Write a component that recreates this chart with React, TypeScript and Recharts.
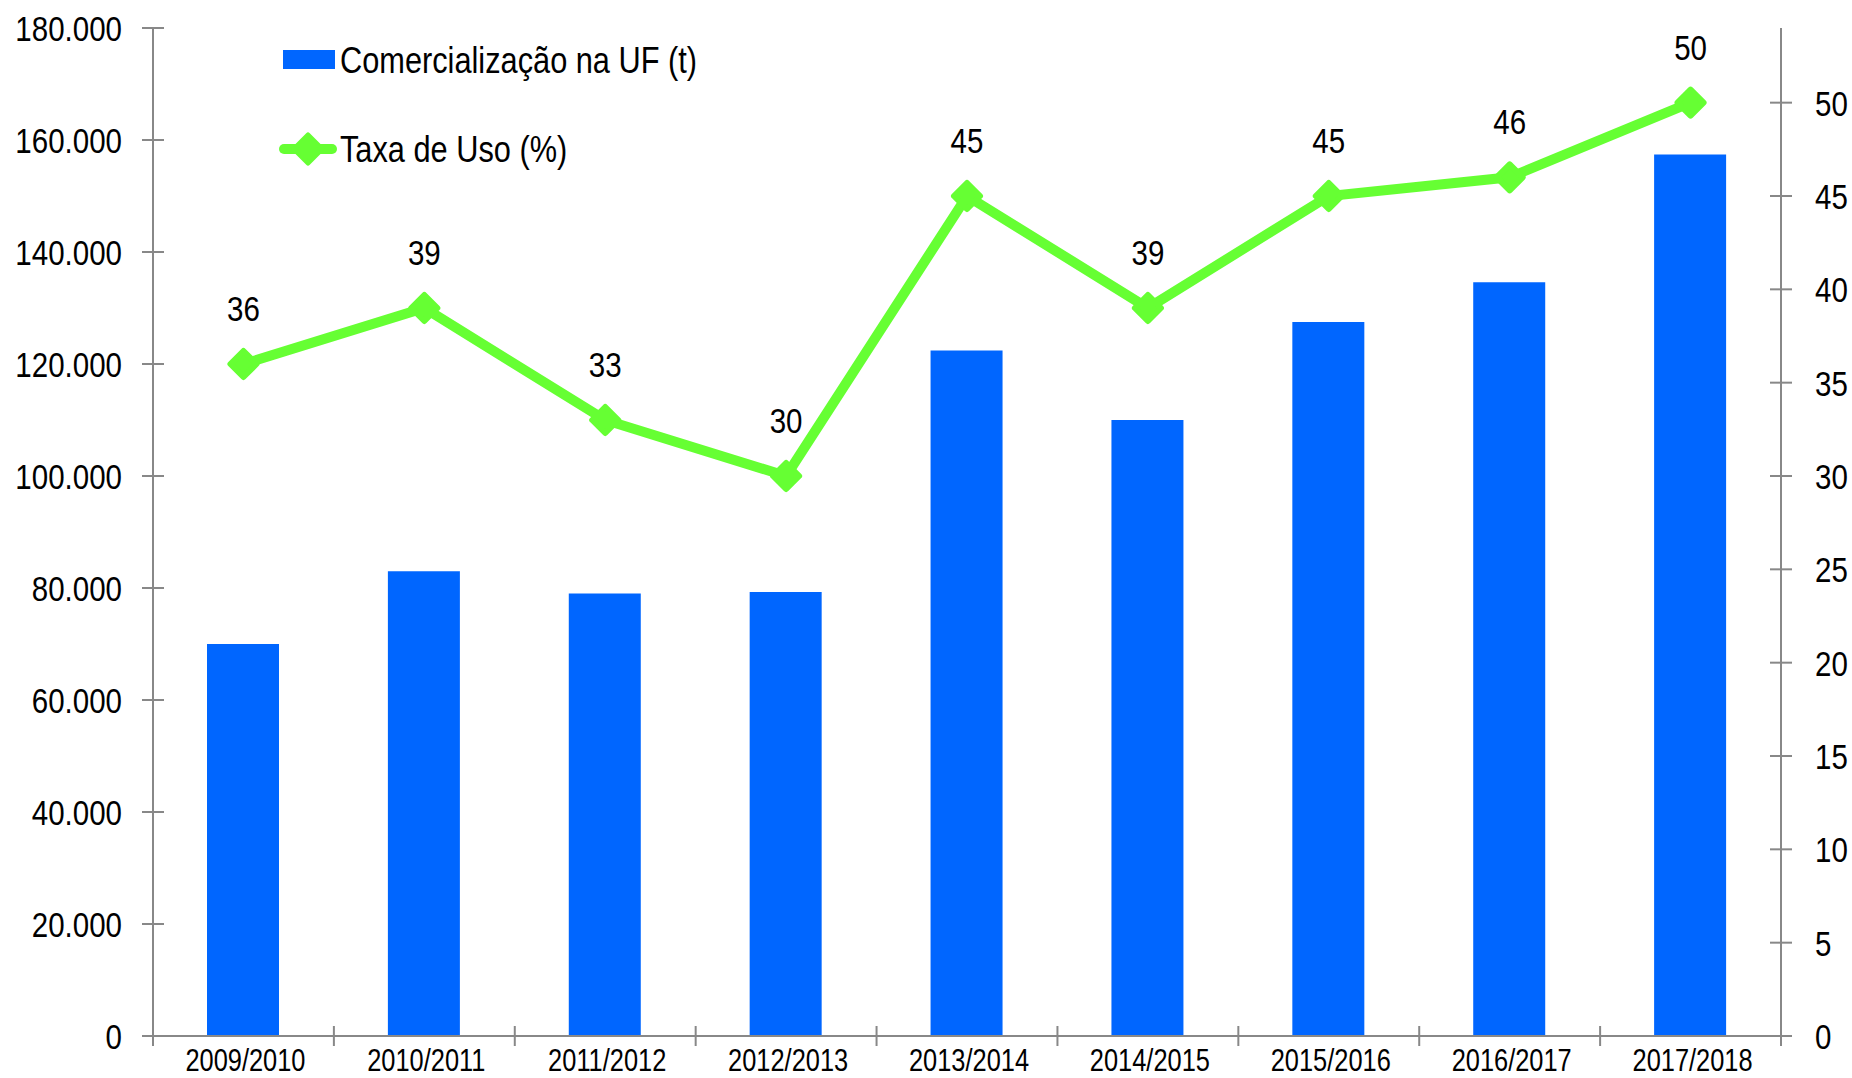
import React from 'react';
import { ComposedChart, Bar, Line, XAxis, YAxis, LabelList } from 'recharts';

const categories = ['2009/2010', '2010/2011', '2011/2012', '2012/2013', '2013/2014', '2014/2015', '2015/2016', '2016/2017', '2017/2018'];
const comercializacao = [70000, 83000, 79000, 79300, 122400, 110000, 127500, 134600, 157400];
const taxaUso = [36, 39, 33, 30, 45, 39, 45, 46, 50];
const leftTicks = [0, 20000, 40000, 60000, 80000, 100000, 120000, 140000, 160000, 180000];
const rightTicks = [0, 5, 10, 15, 20, 25, 30, 35, 40, 45, 50];
const seriesNames = ['Comercialização na UF (t)', 'Taxa de Uso (%)'];

const data = categories.map((c, i) => ({ cat: c, com: comercializacao[i], taxa: taxaUso[i] }));

const FONT = "'Liberation Sans', Arial, sans-serif";
const SX = 0.82;
const BLUE = '#0066FF';
const GREEN = '#66FF33';
const AXIS = '#888888';

const fmt = (v: number) => v.toLocaleString('de-DE');

const NText = ({ x, y, anchor = 'start', size = 36, children }: any) => (
  <text
    transform={`translate(${x},${y}) scale(${SX},1)`}
    x={0}
    y={0}
    textAnchor={anchor}
    fontFamily={FONT}
    fontSize={size}
    fill="#000"
  >
    {children}
  </text>
);

const LeftTick = (props: any) => {
  const { x, y, payload } = props;
  return (
    <g>
      <line x1={x + 20} x2={x + 42} y1={y} y2={y} stroke={AXIS} strokeWidth={2} />
      <NText x={x} y={y + 13} anchor="end">{fmt(payload.value)}</NText>
    </g>
  );
};

const RightTick = (props: any) => {
  const { x, y, payload } = props;
  return (
    <g>
      <line x1={x - 23} x2={x - 45} y1={y} y2={y} stroke={AXIS} strokeWidth={2} />
      <NText x={x} y={y + 13} anchor="start">{payload.value}</NText>
    </g>
  );
};

const XTick = (props: any) => {
  const { x, y, payload, index } = props;
  const off = payload.offset || 0;
  const axisY = y - 12;
  const last = index === categories.length - 1;
  return (
    <g>
      <line x1={x - off} x2={x - off} y1={axisY - 10} y2={axisY + 10} stroke={AXIS} strokeWidth={2} />
      {last && <line x1={x + off} x2={x + off} y1={axisY - 10} y2={axisY + 10} stroke={AXIS} strokeWidth={2} />}
      <NText x={x + 2} y={axisY + 35} anchor="middle" size={31}>{payload.value}</NText>
    </g>
  );
};

const Diamond = (props: any) => {
  const { cx, cy } = props;
  if (cx == null || cy == null) return null;
  const r = 13;
  return (
    <polygon
      points={`${cx},${cy - r} ${cx + r},${cy} ${cx},${cy + r} ${cx - r},${cy}`}
      fill={GREEN}
      stroke={GREEN}
      strokeWidth={6}
      strokeLinejoin="round"
    />
  );
};

const DataLabel = (props: any) => {
  const { x, y, value } = props;
  return <NText x={x} y={y - 43} anchor="middle">{value}</NText>;
};

const LegendBox = () => (
  <svg width={520} height={170} style={{ position: 'absolute', left: 270, top: 28 }}>
    <rect x={13} y={22} width={52} height={19} fill={BLUE} />
    <NText x={70} y={45} size={37.5}>{seriesNames[0]}</NText>
    <line x1={14} x2={62} y1={121} y2={121} stroke={GREEN} strokeWidth={10} strokeLinecap="round" />
    <polygon points="38,107 52,121 38,135 24,121" fill={GREEN} stroke={GREEN} strokeWidth={5} strokeLinejoin="round" />
    <NText x={70} y={134} size={37.5}>{seriesNames[1]}</NText>
  </svg>
);

export default function App() {
  return (
    <div style={{ position: 'absolute', left: 0, top: 0, width: 1852, height: 1078, background: '#fff' }}>
      <ComposedChart width={1852} height={1078} data={data} margin={{ top: 28, right: 0, bottom: 0, left: 0 }}>
        <XAxis
          dataKey="cat"
          height={42}
          axisLine={{ stroke: AXIS, strokeWidth: 2 }}
          tickLine={false}
          tickSize={10}
          tickMargin={2}
          tick={<XTick />}
          interval={0}
        />
        <YAxis
          yAxisId="left"
          width={153}
          domain={[0, 180000]}
          ticks={leftTicks}
          axisLine={{ stroke: AXIS, strokeWidth: 2 }}
          tickLine={false}
          tickSize={11}
          tickMargin={20}
          tick={<LeftTick />}
          interval={0}
        />
        <YAxis
          yAxisId="right"
          orientation="right"
          width={71}
          domain={[0, 54]}
          ticks={rightTicks}
          axisLine={{ stroke: AXIS, strokeWidth: 2 }}
          tickLine={false}
          tickSize={11}
          tickMargin={23}
          tick={<RightTick />}
          interval={0}
        />
        <Bar yAxisId="left" dataKey="com" name={seriesNames[0]} fill={BLUE} barSize={72} isAnimationActive={false} />
        <Line
          yAxisId="right"
          dataKey="taxa"
          name={seriesNames[1]}
          stroke={GREEN}
          strokeWidth={10}
          dot={<Diamond />}
          activeDot={false}
          isAnimationActive={false}
        >
          <LabelList dataKey="taxa" content={<DataLabel />} />
        </Line>
      </ComposedChart>
      <LegendBox />
    </div>
  );
}
